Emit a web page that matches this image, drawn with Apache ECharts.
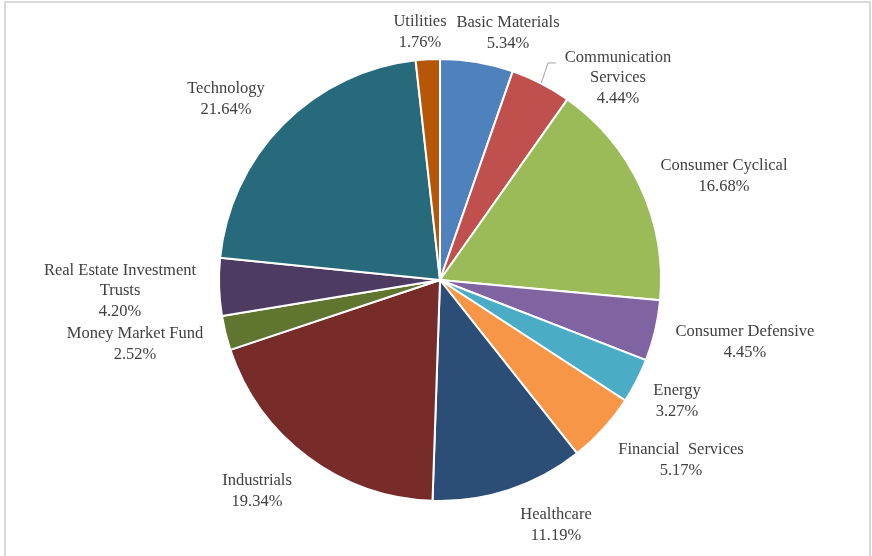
<!DOCTYPE html>
<html><head><meta charset="utf-8">
<script src="https://cdn.jsdelivr.net/npm/echarts@6/dist/echarts.min.js"></script>
<style>html,body{margin:0;padding:0;background:#fff}#c{width:872px;height:556px}</style>
</head><body><div id="c"></div>
<script>
const categories = ["Basic Materials","Communication Services","Consumer Cyclical","Consumer Defensive","Energy","Financial Services","Healthcare","Industrials","Money Market Fund","Real Estate Investment Trusts","Technology","Utilities"];
const labelNames = ["Basic Materials","Communication\nServices","Consumer Cyclical","Consumer Defensive","Energy","Financial  Services","Healthcare","Industrials","Money Market Fund","Real Estate Investment\nTrusts","Technology","Utilities"];
const values = [5.34,4.44,16.68,4.45,3.27,5.17,11.19,19.34,2.52,4.20,21.64,1.76];
const colors = ["#4F81BD","#C0504D","#9BBB59","#8064A2","#4BACC6","#F79646","#2C4D75","#772C2A","#5F7530","#4D3B62","#276A7C","#B65708"];
// label centre positions (layout)
const labelPos = [[508,33],[618,78],[724,176],[745,342],[677,401],[681,460],[556,525],[257,491],[135,344],[120,291],[226,99],[420,32]];

const chart = echarts.init(document.getElementById('c'), null, {renderer:'canvas'});
chart.setOption({
  animation:false,
  backgroundColor:'#fff',
  graphic:[{type:'rect',shape:{x:5,y:2,width:865,height:600},style:{fill:'none',stroke:'#d9d9d9',lineWidth:2},silent:true}],
  series:[{
    type:'pie',
    center:[440,280],
    radius:[0,221],
    startAngle:90,
    clockwise:true,
    data: categories.map((c,i)=>({name:c,value:values[i],itemStyle:{color:colors[i]},
      labelLine:{show:i===1}})),
    itemStyle:{borderColor:'#fff',borderWidth:2},
    label:{show:true,position:'outside',
      formatter:p=>labelNames[p.dataIndex]+'\n'+values[p.dataIndex].toFixed(2)+'%',
      fontFamily:'"Liberation Serif","Times New Roman",serif',fontSize:16.5,color:'#404040',lineHeight:20.5,align:'center'},
    labelLine:{show:false,lineStyle:{color:'#a6a6a6',width:1},length:8,length2:8},
    labelLayout:function(p){
      const pos = labelPos[p.dataIndex];
      const r = {x:pos[0],y:pos[1],align:'center',verticalAlign:'middle'};
      if (p.dataIndex===1 && p.labelLinePoints) {
        const s = p.labelLinePoints[0];
        const ly = pos[1]-15;
        r.labelLinePoints = [[s[0],s[1]],[s[0]+7,ly],[s[0]+15,ly]];
      }
      return r;
    }
  }]
});
</script></body></html>
